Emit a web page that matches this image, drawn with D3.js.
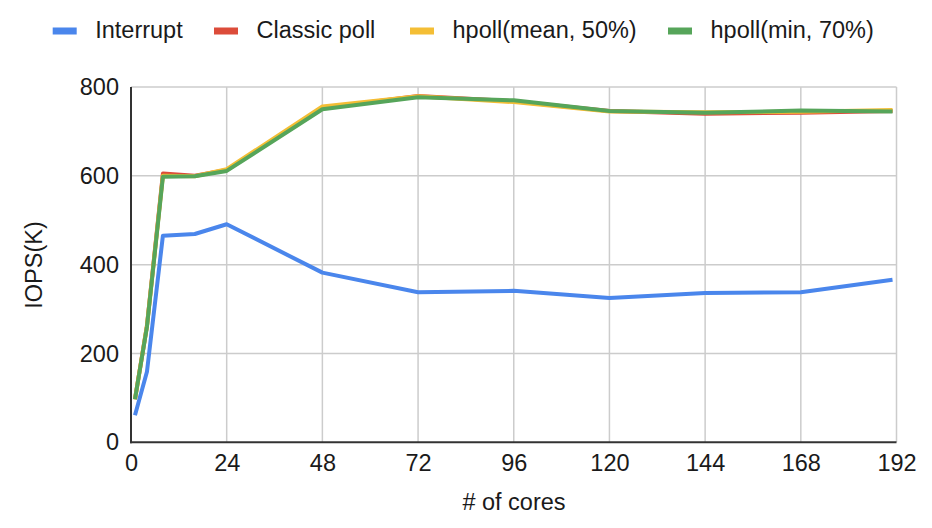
<!DOCTYPE html>
<html>
<head>
<meta charset="utf-8">
<script src="https://cdn.jsdelivr.net/npm/d3@7"></script>
<style>
  html, body { margin: 0; padding: 0; background: #fff; }
  svg { display: block; font-family: "Liberation Sans", Arial, sans-serif; }
</style>
</head>
<body>
<svg id="chart" width="932" height="528"></svg>
<script>
const cores = [1, 4, 8, 16, 24, 48, 72, 96, 120, 144, 168, 191];
const interrupt = [61, 159, 465, 469, 491, 382, 338, 341, 325, 336, 338, 366];
const classicPoll = [97, 262, 605, 600, 613, 752, 780, 768, 746, 740, 742, 746];
const hpollMean = [97, 262, 600, 599, 615, 756, 779, 766, 745, 743, 744, 748];
const hpollMin = [97, 260, 598, 599, 611, 750, 777, 770, 746, 742, 747, 745];
const seriesNames = ["Interrupt", "Classic poll", "hpoll(mean, 50%)", "hpoll(min, 70%)"];
const seriesColors = ["#4a86ec", "#dc4c3a", "#f4be35", "#56a55a"];
const xTicks = [0, 24, 48, 72, 96, 120, 144, 168, 192];
const yTicks = [0, 200, 400, 600, 800];

const allSeries = [interrupt, classicPoll, hpollMean, hpollMin];

(function () {
const svg = d3.select("#chart");
const pLeft = 131, pRight = 896.5, pTop = 87, pBottom = 442.3;
const x = d3.scaleLinear().domain([0, 192]).range([pLeft, pRight]);
const y = d3.scaleLinear().domain([0, 800]).range([pBottom, pTop]);
const fs = 23.5;
const txt = "#1a1a1a";

// gridlines
const grid = svg.append("g");
grid.selectAll("line.v").data(xTicks.slice(1)).enter().append("line")
  .attr("x1", d => x(d)).attr("x2", d => x(d)).attr("y1", pTop).attr("y2", pBottom)
  .attr("stroke", "#cccccc").attr("stroke-width", 1.5);
grid.selectAll("line.h").data(yTicks.slice(1)).enter().append("line")
  .attr("x1", pLeft).attr("x2", pRight).attr("y1", d => y(d)).attr("y2", d => y(d))
  .attr("stroke", "#cccccc").attr("stroke-width", 1.5);

// axes via d3
const xAxis = d3.axisBottom(x).tickValues(xTicks).tickSize(0).tickPadding(12);
const gx = svg.append("g").attr("transform", `translate(0,${pBottom})`).call(xAxis);
gx.select(".domain").remove();
gx.selectAll("text").attr("font-size", fs).attr("fill", txt).attr("font-family", "Liberation Sans, Arial, sans-serif");

const yAxis = d3.axisLeft(y).tickValues(yTicks).tickSize(0).tickPadding(12);
const gy = svg.append("g").attr("transform", `translate(${pLeft},0)`).call(yAxis);
gy.select(".domain").remove();
gy.selectAll("text").attr("font-size", fs).attr("fill", txt).attr("font-family", "Liberation Sans, Arial, sans-serif");

// lines
const line = d3.line().x((d, i) => x(cores[i])).y(d => y(d));
allSeries.forEach((s, k) => {
  svg.append("path").datum(s).attr("d", line)
    .attr("fill", "none").attr("stroke", seriesColors[k])
    .attr("stroke-width", 4).attr("stroke-linejoin", "round");
});

// axis lines
svg.append("line").attr("x1", pLeft).attr("x2", pLeft).attr("y1", pTop).attr("y2", pBottom + 1)
  .attr("stroke", "#333").attr("stroke-width", 2);
svg.append("line").attr("x1", pLeft - 1).attr("x2", pRight).attr("y1", pBottom).attr("y2", pBottom)
  .attr("stroke", "#333").attr("stroke-width", 2);

// titles
svg.append("text").attr("x", 514).attr("y", 510).attr("text-anchor", "middle")
  .attr("font-size", fs).attr("fill", txt).text("# of cores");
svg.append("text").attr("transform", `translate(42,265) rotate(-90)`).attr("text-anchor", "middle")
  .attr("font-size", fs).attr("fill", txt).text("IOPS(K)");

// legend
const legendX = [52.7, 214, 410, 668];
const lg = svg.append("g");
seriesNames.forEach((n, k) => {
  lg.append("rect").attr("x", legendX[k]).attr("y", 27.5).attr("width", 24).attr("height", 7)
    .attr("fill", seriesColors[k]);
  lg.append("text").attr("x", legendX[k] + 42.5).attr("y", 37.5).attr("font-size", fs)
    .attr("fill", txt).text(n);
});
})();
</script>
</body>
</html>
